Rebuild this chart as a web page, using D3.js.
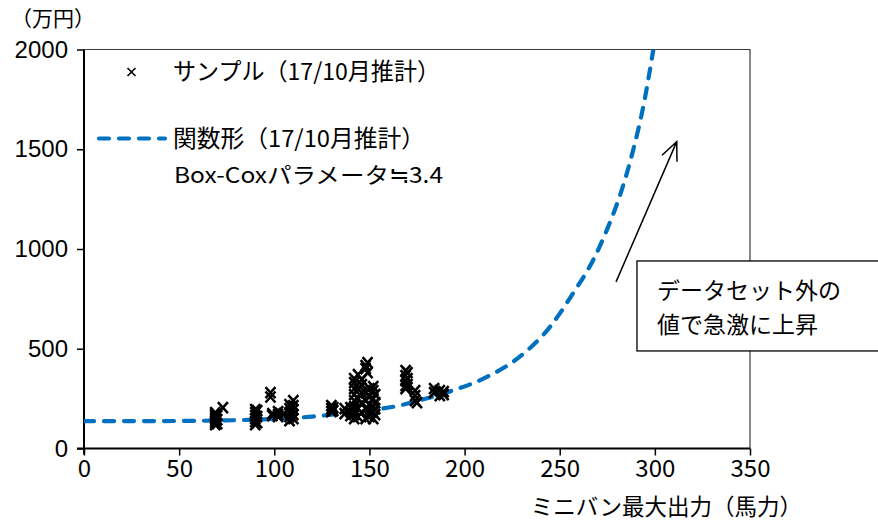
<!DOCTYPE html>
<html>
<head>
<meta charset="utf-8">
<script src="https://cdn.jsdelivr.net/npm/d3@7"></script>
<style>
  html, body { margin: 0; padding: 0; background: #fff; }
  svg { display: block; }
</style>
</head>
<body>
<svg id="chart" width="878" height="524"></svg>
<script>
// Sample vehicles: max output (hp) and estimated price (万円)
const sampleHp = [
  69, 69, 69, 69, 69, 69, 69, 70, 70, 70, 73,
  90, 90, 90, 90, 90, 90, 91, 91, 91,
  98, 98, 99, 99, 102, 102, 102, 105,
  108, 108, 108, 108, 108, 110, 110, 110, 110, 110,
  130, 130, 130, 131, 131, 137, 137, 140, 140, 140,
  142, 142, 142, 142, 142, 142, 142, 142, 142,
  144, 144, 144, 144, 144, 146, 146, 146, 146, 146,
  148, 148, 148, 148, 148, 148, 149, 149,
  150, 150, 150, 150, 150, 152, 152, 152, 152, 152, 152, 153, 153, 153, 153,
  169, 169, 169, 169, 169, 170, 170, 170, 174, 174, 174, 175,
  184, 184, 187, 187, 189, 189
];
const samplePrice = [
  120, 130, 140, 150, 160, 170, 180, 125, 145, 165, 205,
  120, 135, 150, 165, 180, 195, 130, 160, 190,
  280, 258, 175, 165, 185, 170, 160, 175,
  140, 160, 180, 200, 220, 150, 170, 195, 215, 240,
  185, 200, 215, 190, 205, 200, 175, 165, 185, 205,
  150, 170, 190, 210, 240, 270, 300, 330, 350,
  160, 200, 250, 300, 370, 180, 230, 280, 320, 345,
  150, 200, 240, 280, 400, 415, 430, 380,
  160, 190, 220, 260, 300, 150, 180, 210, 250, 290, 310, 170, 200, 230, 270,
  390, 365, 340, 315, 300, 380, 350, 320, 290, 265, 240, 230,
  300, 280, 290, 265, 285, 270
];

// Fitted functional form (Box-Cox)
const curveHp    = [0, 50, 80, 100, 120, 135, 150, 163, 177, 192, 212, 229, 245, 257, 267.6, 275.5, 282.6, 288.6, 293.9, 299.2];
const curvePrice = [137, 138, 142, 148, 160, 175, 192, 210, 243, 285, 360, 460, 611, 778, 945, 1112, 1296, 1496, 1713, 2000];

const xTicks = [0, 50, 100, 150, 200, 250, 300, 350];
const yTicks = [0, 500, 1000, 1500, 2000];

const legendLabels = ["サンプル（17/10月推計）", "関数形（17/10月推計）", "Box-Coxパラメータ≒3.4"];
const axisTitles = { y: "（万円）", x: "ミニバン最大出力（馬力）" };
const noteLines = ["データセット外の", "値で急激に上昇"];

const JP = "'Noto Sans CJK JP', 'Noto Sans', sans-serif";
const LAT = "'Liberation Sans', Arial, sans-serif";
const BLUE = "#0070C0";

const svg = d3.select("#chart");
const plot = { left: 84, right: 750, top: 49.5, bottom: 448.5 };

const x = d3.scaleLinear().domain([0, 350]).range([plot.left, plot.right]);
const y = d3.scaleLinear().domain([0, 2000]).range([plot.bottom, plot.top]);

svg.append("defs").append("clipPath").attr("id", "plotClip")
  .append("rect")
  .attr("x", plot.left).attr("y", plot.top)
  .attr("width", plot.right - plot.left).attr("height", plot.bottom - plot.top);

// Plot frame (top and right edges)
svg.append("path")
  .attr("d", `M${plot.left},${plot.top}H${plot.right}V${plot.bottom}`)
  .attr("fill", "none").attr("stroke", "#3a3a3a").attr("stroke-width", 1.2);

// Y axis
const yAxis = svg.append("g")
  .attr("transform", `translate(${plot.left},0)`)
  .call(d3.axisLeft(y).tickValues(yTicks).tickSize(7).tickPadding(9).tickFormat(d3.format("d")));
yAxis.select(".domain").attr("stroke", "#000").attr("stroke-width", 2)
  .attr("d", `M0,${plot.top}V${plot.bottom + 6}`);
yAxis.selectAll(".tick line").attr("stroke", "#000").attr("stroke-width", 1.5);
yAxis.selectAll(".tick text").attr("font-family", LAT).attr("font-size", 24).attr("fill", "#000");

// X axis
const xAxis = svg.append("g")
  .attr("transform", `translate(0,${plot.bottom})`)
  .call(d3.axisBottom(x).tickValues(xTicks).tickSize(7).tickPadding(4).tickFormat(d3.format("d")));
xAxis.select(".domain").attr("stroke", "#000").attr("stroke-width", 2)
  .attr("d", `M${plot.left - 7},0H${plot.right}`);
xAxis.selectAll(".tick line").attr("stroke", "#000").attr("stroke-width", 1.5);
xAxis.selectAll(".tick text").attr("font-family", JP).attr("font-size", 24).attr("fill", "#000");

// Axis titles
svg.append("text").attr("x", 11).attr("y", 26)
  .attr("font-family", JP).attr("font-size", 21).attr("fill", "#000")
  .text(axisTitles.y);
svg.append("text").attr("x", 802).attr("y", 515).attr("text-anchor", "end")
  .attr("font-family", JP).attr("font-size", 22.5).attr("fill", "#000")
  .text(axisTitles.x);

// Fitted curve
const curveData = curveHp.map((h, i) => [h, curvePrice[i]]);
const line = d3.line().x(d => x(d[0])).y(d => y(d[1])).curve(d3.curveMonotoneX);
svg.append("path")
  .datum(curveData)
  .attr("clip-path", "url(#plotClip)")
  .attr("d", line)
  .attr("fill", "none").attr("stroke", BLUE).attr("stroke-width", 4.2)
  .attr("stroke-linecap", "round").attr("stroke-dasharray", "10,10");

// Sample markers
const cross = (rx, ry) => `M${-rx},${-ry}L${rx},${ry}M${-rx},${ry}L${rx},${-ry}`;
svg.append("g").selectAll("path")
  .data(sampleHp.map((h, i) => [h, samplePrice[i]]))
  .join("path")
  .attr("transform", d => `translate(${x(d[0])},${y(d[1])})`)
  .attr("d", cross(5, 5.5))
  .attr("fill", "none").attr("stroke", "#000").attr("stroke-width", 2.5);

// Legend
const legend = svg.append("g");
legend.append("path").attr("transform", "translate(131.5,72)").attr("d", cross(4, 4))
  .attr("stroke", "#000").attr("stroke-width", 1.6).attr("fill", "none");
legend.append("text").attr("x", 173).attr("y", 80)
  .attr("font-family", JP).attr("font-size", 23.5).attr("fill", "#000")
  .attr("textLength", 267).attr("lengthAdjust", "spacingAndGlyphs").text(legendLabels[0]);
legend.append("line").attr("x1", 99).attr("x2", 165).attr("y1", 138.5).attr("y2", 138.5)
  .attr("stroke", BLUE).attr("stroke-width", 4.2).attr("stroke-linecap", "round")
  .attr("stroke-dasharray", "10,10");
legend.append("text").attr("x", 173).attr("y", 147)
  .attr("font-family", JP).attr("font-size", 23.5).attr("fill", "#000")
  .attr("textLength", 252).attr("lengthAdjust", "spacingAndGlyphs").text(legendLabels[1]);
legend.append("text").attr("x", 174).attr("y", 183)
  .attr("font-family", JP).attr("font-size", 22).attr("fill", "#000")
  .attr("textLength", 269).attr("lengthAdjust", "spacingAndGlyphs").text(legendLabels[2]);

// Annotation: arrow and note box
const arrowTail = [279.6, 835], arrowHead = [311.5, 1538];
const ax0 = x(arrowTail[0]), ay0 = y(arrowTail[1]);
const ax1 = x(arrowHead[0]), ay1 = y(arrowHead[1]);
const ang = Math.atan2(ay1 - ay0, ax1 - ax0);
const wing = 20, spread = 0.42;
svg.append("path")
  .attr("d", `M${ax0},${ay0}L${ax1},${ay1}` +
    `M${ax1 - wing * Math.cos(ang - spread)},${ay1 - wing * Math.sin(ang - spread)}L${ax1},${ay1}` +
    `L${ax1 - wing * Math.cos(ang + spread)},${ay1 - wing * Math.sin(ang + spread)}`)
  .attr("fill", "none").attr("stroke", "#000").attr("stroke-width", 1.5);

const boxLeft = x(290.6), boxTop = y(940), boxBottom = y(489);
svg.append("rect")
  .attr("x", boxLeft).attr("y", boxTop)
  .attr("width", 878 - boxLeft + 10).attr("height", boxBottom - boxTop)
  .attr("fill", "#fff").attr("stroke", "#000").attr("stroke-width", 1.3);
svg.append("g").selectAll("text").data(noteLines).join("text")
  .attr("x", boxLeft + 20).attr("y", (d, i) => boxTop + 38 + i * 34)
  .attr("font-family", JP).attr("font-size", 23).attr("fill", "#000")
  .text(d => d);
</script>
</body>
</html>
